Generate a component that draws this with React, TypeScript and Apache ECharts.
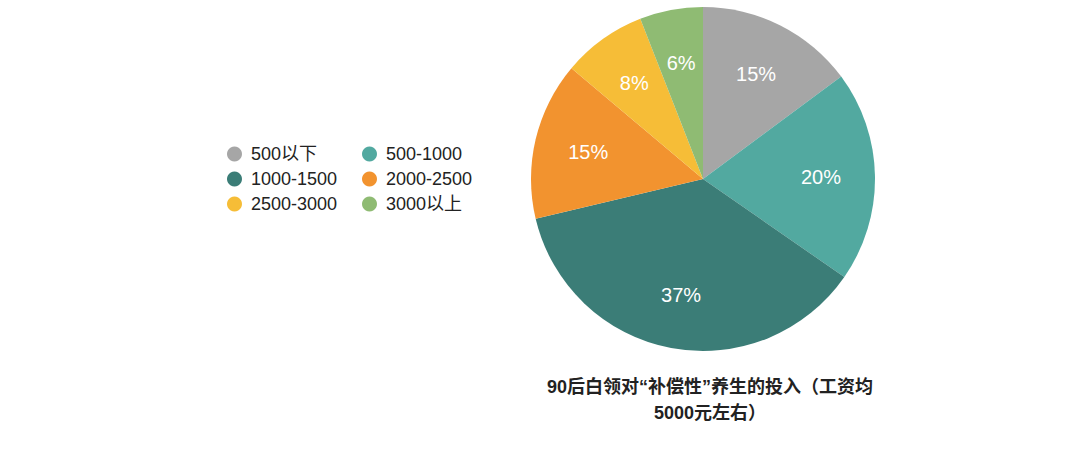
import React, { useEffect, useRef } from "react";
import * as echarts from "echarts";

const categories = ["500以下", "500-1000", "1000-1500", "2000-2500", "2500-3000", "3000以上"];
const values = [15, 20, 37, 15, 8, 6];
const colors = ["#a6a6a6", "#52a9a0", "#3b7d77", "#f2932f", "#f6bd37", "#8fbb73"];
const legendLeft = ["500以下", "1000-1500", "2500-3000"];
const legendRight = ["500-1000", "2000-2500", "3000以上"];
const titleText = "90后白领对“补偿性”养生的投入（工资均\n5000元左右）";

const FONT = "'Liberation Sans', 'Noto Sans CJK SC', sans-serif";

export default function App() {
  const ref = useRef<HTMLDivElement>(null);
  useEffect(() => {
    document.body.style.margin = "0";
    const chart = echarts.init(ref.current!, null, { renderer: "svg" });
    const data = categories.map((name, i) => ({
      name,
      value: values[i],
      itemStyle: { color: colors[i] },
    }));
    const legendCommon = {
      orient: "vertical" as const,
      top: 140,
      icon: "circle",
      itemWidth: 15,
      itemHeight: 15,
      itemGap: 7,
      textStyle: { fontSize: 18, color: "#222", fontFamily: FONT, padding: [0, 0, 0, 4] },
      selectedMode: false,
    };
    chart.setOption({
      animation: false,
      backgroundColor: "#ffffff",
      title: {
        text: titleText,
        left: 705,
        top: 369,
        textAlign: "center",
        textStyle: {
          fontSize: 18,
          fontWeight: "bold",
          color: "#222",
          lineHeight: 26,
          fontFamily: FONT,
        },
      },
      legend: [
        { ...legendCommon, left: 222, data: legendLeft },
        { ...legendCommon, left: 357, data: legendRight },
      ],
      series: [
        {
          type: "pie",
          center: [703, 179],
          radius: [0, 172],
          startAngle: 90,
          clockwise: true,
          label: { show: false },
          labelLine: { show: false },
          emphasis: { disabled: true },
          data,
        },
        {
          type: "pie",
          center: [703, 179],
          radius: [58, 172],
          startAngle: 90,
          clockwise: true,
          silent: true,
          legendHoverLink: false,
          label: {
            show: true,
            position: "inside",
            formatter: "{c}%",
            color: "#ffffff",
            fontSize: 20,
            fontFamily: FONT,
          },
          labelLine: { show: false },
          emphasis: { disabled: true },
          data: categories.map((name, i) => ({
            name: name + " ",
            value: values[i],
            itemStyle: { color: "rgba(0,0,0,0)" },
          })),
        },
      ],
    });
    return () => chart.dispose();
  }, []);
  return <div ref={ref} style={{ width: 1080, height: 450 }} />;
}
